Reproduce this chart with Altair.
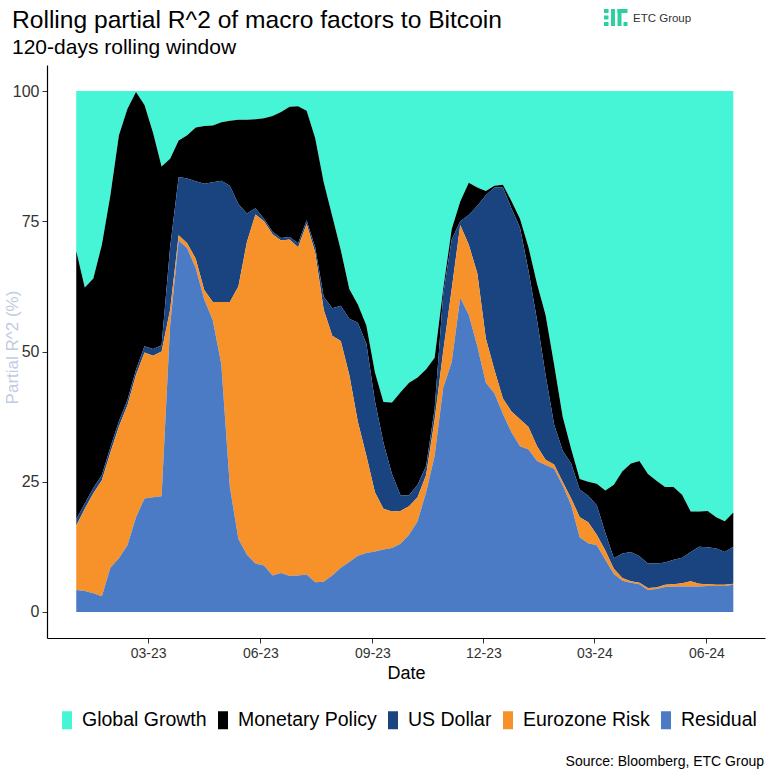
import altair as alt
import pandas as pd

# Weekly observations of the 120-day rolling decomposition (shares in %, summing to 100)
first_week = "2023-01-01"
last_week = "2024-06-23"

residual = [4.2, 4.0, 3.6, 3.0, 8.5, 10.3, 12.8, 18.2, 21.8, 22.0,
            22.2, 55.0, 71.3, 69.8, 66.0, 60.0, 56.0, 47.5, 24.0, 14.0,
            11.0, 9.3, 8.9, 7.0, 7.5, 6.9, 7.0, 7.2, 5.7, 5.8,
            7.0, 8.5, 9.6, 10.8, 11.3, 11.6, 12.0, 12.3, 13.1, 14.8,
            17.4, 23.0, 30.0, 43.0, 48.0, 60.3, 57.0, 51.0, 44.0, 42.0,
            38.0, 34.5, 31.8, 31.2, 29.0, 28.2, 27.5, 24.3, 20.5, 14.3,
            13.2, 12.8, 10.0, 7.3, 6.0, 5.6, 5.3, 4.2, 4.4, 4.8,
            4.9, 4.9, 4.9, 4.9, 5.0, 5.0, 5.0, 5.2]

eurozone_risk = [12.4, 15.8, 19.2, 22.3, 22.1, 25.3, 26.9, 27.3, 28.0, 27.2,
                 27.8, 3.0, 1.0, 1.0, 1.8, 1.8, 3.5, 12.0, 35.5, 48.5,
                 60.0, 67.0, 66.1, 65.5, 63.8, 64.6, 63.0, 67.3, 63.3, 52.2,
                 46.0, 43.5, 35.9, 25.7, 18.7, 11.4, 7.8, 7.0, 6.3, 5.5,
                 4.6, 3.3, 6.9, 7.0, 14.0, 14.0, 13.5, 14.0, 8.5, 4.5,
                 3.0, 4.0, 5.2, 4.3, 2.8, 1.0, 0.8, 0.7, 1.3, 3.9,
                 4.0, 2.0, 1.8, 1.0, 0.5, 0.3, 0.3, 0.4, 0.3, 0.4,
                 0.4, 0.6, 1.0, 0.5, 0.3, 0.2, 0.2, 0.2]

us_dollar = [1.2, 1.0, 1.0, 1.0, 1.0, 1.0, 1.0, 1.0, 1.2, 1.3,
             1.2, 12.0, 11.2, 12.4, 14.9, 20.4, 23.0, 23.3, 22.3, 15.8,
             5.5, 1.2, 0.5, 0.5, 0.5, 0.5, 0.8, 0.7, 1.0, 2.5,
             5.3, 6.8, 10.8, 19.0, 21.5, 17.5, 12.7, 7.2, 3.0, 2.1,
             2.4, 1.7, 2.1, 11.0, 9.5, 0.7, 5.7, 13.0, 27.5, 35.0,
             40.5, 39.0, 36.8, 30.0, 24.2, 16.3, 7.7, 6.0, 6.7, 5.3,
             5.1, 5.7, 3.4, 2.0, 4.7, 5.6, 5.1, 4.7, 4.6, 4.3,
             4.7, 4.9, 5.6, 7.1, 7.1, 7.0, 6.3, 7.1]

monetary_policy = [51.5, 41.5, 40.2, 44.2, 48.4, 54.9, 55.9, 53.3, 46.3, 41.5,
                   34.3, 17.0, 7.0, 8.3, 10.3, 11.1, 10.9, 11.2, 12.5, 16.2,
                   18.0, 17.1, 19.3, 22.2, 24.2, 25.0, 26.3, 21.0, 21.0, 22.0,
                   17.7, 10.7, 5.7, 3.5, 3.5, 5.5, 7.8, 13.7, 19.8, 21.6,
                   20.6, 18.6, 9.8, 1.0, 2.0, 3.8, 6.2, 3.5, 0.8, 0.3,
                   0.5, 1.4, 1.7, 4.5, 7.0, 11.5, 11.5, 6.5, 2.8, 2.0,
                   2.7, 4.1, 8.1, 14.1, 15.8, 17.0, 18.3, 17.2, 15.9, 14.5,
                   14.0, 12.1, 7.8, 6.8, 7.0, 6.0, 5.9, 6.6]

global_growth = [30.7, 37.7, 36.0, 29.5, 20.0, 8.5, 3.4, 0.2, 2.7, 8.0,
                 14.5, 13.0, 9.5, 8.5, 7.0, 6.7, 6.6, 6.0, 5.7, 5.5,
                 5.5, 5.4, 5.2, 4.8, 4.0, 3.0, 2.9, 3.8, 9.0, 17.5,
                 24.0, 30.5, 38.0, 41.0, 45.0, 54.0, 59.7, 59.8, 57.8, 56.0,
                 55.0, 53.4, 51.2, 38.0, 26.5, 21.2, 17.6, 18.5, 19.2, 18.2,
                 18.0, 21.1, 24.5, 30.0, 37.0, 43.0, 52.5, 62.5, 68.7, 74.5,
                 75.0, 75.4, 76.7, 75.6, 73.0, 71.5, 71.0, 73.5, 74.8, 76.0,
                 76.0, 77.5, 80.7, 80.7, 80.6, 81.8, 82.6, 80.9]

factors = ["Global Growth", "Monetary Policy", "US Dollar", "Eurozone Risk", "Residual"]
factor_colors = ["#45F5D6", "#000000", "#1A4480", "#F7922B", "#4B7BC5"]
tick_dates = ["2023-03-01", "2023-06-01", "2023-09-01", "2023-12-01", "2024-03-01", "2024-06-01"]
y_ticks = [0, 25, 50, 75, 100]

FONT = "Liberation Sans"

weeks = pd.date_range(first_week, last_week, freq="7D")
series = {
    "Global Growth": global_growth,
    "Monetary Policy": monetary_policy,
    "US Dollar": us_dollar,
    "Eurozone Risk": eurozone_risk,
    "Residual": residual,
}
# Residual sits at the bottom of the stack, Global Growth on top
stack_rank = {name: len(factors) - 1 - i for i, name in enumerate(factors)}

rows = []
for name, values in series.items():
    for day, value in zip(weeks, values):
        rows.append({"date": day.strftime("%Y-%m-%d"), "factor": name,
                     "share": value, "rank": stack_rank[name]})
df = pd.DataFrame(rows)


def utc_day(text):
    y, m, d = (int(p) for p in text.split("-"))
    return alt.DateTime(year=y, month=m, date=d, utc=True)


tall_key = "M-0.5,-0.9L0.5,-0.9L0.5,0.9L-0.5,0.9Z"

areas = alt.Chart(df).mark_area(interpolate="linear").encode(
    x=alt.X(
        "date:T",
        scale=alt.Scale(type="utc", domain=[utc_day("2022-12-08"), utc_day("2024-07-19")]),
        axis=alt.Axis(
            title="Date", values=[utc_day(t) for t in tick_dates],
            labelExpr="utcFormat(datum.value, '%m-%y')",
            labelFont=FONT, labelFontSize=14, labelColor="#333333", labelPadding=3,
            titleFont=FONT, titleFontSize=18, titleFontWeight="normal", titleColor="#000000",
            titlePadding=4, tickSize=5, tickColor="#333333", domainColor="#000000",
            domainWidth=1.2, grid=False,
        ),
    ),
    y=alt.Y(
        "share:Q", stack="zero",
        scale=alt.Scale(domain=[-5, 105], nice=False, zero=False),
        axis=alt.Axis(
            title="Partial R^2 (%)", values=y_ticks,
            labelFont=FONT, labelFontSize=16, labelColor="#333333", labelPadding=3,
            titleFont=FONT, titleFontSize=17, titleFontWeight="normal", titleColor="#bfcbdf",
            titleX=-26, titleY=282,
            tickSize=5, tickColor="#333333", domainColor="#000000", domainWidth=1.2, grid=False,
        ),
    ),
    color=alt.Color(
        "factor:N",
        scale=alt.Scale(domain=factors, range=factor_colors),
        legend=alt.Legend(
            title=None, orient="none", legendX=10, legendY=645, direction="horizontal",
            columns=5, symbolType=tall_key, symbolSize=400, symbolStrokeWidth=0,
            symbolOpacity=1, labelFont=FONT, labelFontSize=19.5, labelColor="#000000",
            labelOffset=5, columnPadding=6, labelLimit=300, padding=0,
        ),
    ),
    order=alt.Order("rank:Q", sort="ascending"),
)

one_row = pd.DataFrame({"k": [0]})


def note(text, x, y, size, color="#000000", align="left"):
    return alt.Chart(one_row).mark_text(
        text=text, font=FONT, fontSize=size, color=color, align=align, baseline="alphabetic"
    ).encode(x=alt.value(x), y=alt.value(y))


def block(x, x2, y, y2, color="#2CCF9F"):
    return alt.Chart(one_row).mark_rect(color=color).encode(
        x=alt.value(x), x2=alt.value(x2), y=alt.value(y), y2=alt.value(y2)
    )


# Brand mark in the top-right corner
logo = [
    block(557, 561.5, -56, -52), block(557, 561.5, -49.5, -45.5), block(557, 561.5, -43, -39),
    block(564, 568, -56, -39),
    block(570.5, 580.5, -56, -52), block(570.5, 574.5, -56, -39), block(576.5, 580.5, -43, -39),
]

heading = note("Rolling partial R^2 of macro factors to Bitcoin", -35, -37, 24.6)
subheading = note("120-days rolling window", -35, -11, 21)
source = note("Source: Bloomberg, ETC Group", 717, 701, 14, align="right")
brand = note("ETC Group", 586, -43, 11.5, color="#333333")

chart = alt.layer(areas, heading, subheading, source, brand, *logo).properties(
    width=718,
    height=573,
    padding={"left": 47, "top": 65, "right": 6, "bottom": 140},
    autosize=alt.AutoSizeParams(type="none"),
    background="#FFFFFF",
).configure_view(strokeWidth=0)

chart.save("out.html", embed_options={"renderer": "svg", "actions": False})
